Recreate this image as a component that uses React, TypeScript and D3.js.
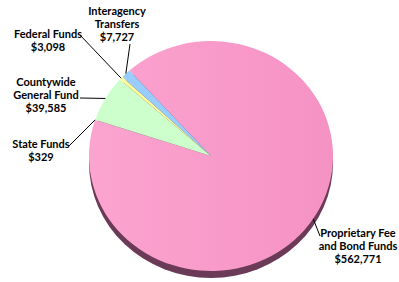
import React from 'react';
import * as d3 from 'd3';

const categories = [
  'Proprietary Fee and Bond Funds',
  'State Funds',
  'Countywide General Fund',
  'Federal Funds',
  'Interagency Transfers',
];
const values = [562771, 329, 39585, 3098, 7727];
const colors = ['#f99bc9', '#ffffcc', '#ccffcc', '#ffff99', '#99ccff'];
const labelLines = [
  ['Proprietary Fee', 'and Bond Funds', '$562,771'],
  ['State Funds', '$329'],
  ['Countywide', 'General Fund', '$39,585'],
  ['Federal Funds', '$3,098'],
  ['Interagency', 'Transfers', '$7,727'],
];

// label anchor (text centre x, first line y) and leader start
const labelPos = [
  { x: 358, y: 233, lx: [320, 236] },
  { x: 41, y: 144, lx: [69, 146] },
  { x: 46, y: 82, lx: [80, 98] },
  { x: 48, y: 34, lx: [80, 35] },
  { x: 117, y: 11, lx: [130, 44] },
];

export default function App() {
  const width = 399;
  const height = 282;
  const cx = 211;
  const cy = 156;
  const rx = 122;
  const ry = 115;
  const depth = 7;
  const k = ry / rx;

  const start = (-42 * Math.PI) / 180;
  const pie = d3.pie<number>().sort(null).startAngle(start).endAngle(start + 2 * Math.PI);
  const arcs = pie(values);
  const arc = d3.arc<d3.PieArcDatum<number>>().innerRadius(0).outerRadius(rx);

  const rimPoint = (a: number) => [cx + rx * Math.sin(a), cy - ry * Math.cos(a)];

  return (
    <svg width={width} height={height} style={{ position: 'absolute', left: 0, top: 0 }}>
      <defs>
        <linearGradient id="pinkGrad" x1="0" x2="1" y1="0" y2="0">
          <stop offset="0%" stopColor="#fca4d0" />
          <stop offset="100%" stopColor="#f592c4" />
        </linearGradient>
      </defs>
      <rect width={width} height={height} fill="#ffffff" />
      {/* side / depth */}
      <ellipse cx={cx} cy={cy + depth} rx={rx} ry={ry} fill="#6b3a56" />
      <g transform={`translate(${cx},${cy}) scale(1,${k})`}>
        {arcs.map((d, i) => (
          <path
            key={categories[i]}
            d={arc(d) || ''}
            fill={i === 0 ? 'url(#pinkGrad)' : colors[i]}
          />
        ))}
      </g>
      {arcs.map((d, i) => {
        const mid = (d.startAngle + d.endAngle) / 2;
        const [ex, ey] = rimPoint(mid);
        const p = labelPos[i];
        return (
          <g key={'l' + i}>
            <polyline
              points={`${p.lx[0]},${p.lx[1]} ${ex},${ey}`}
              fill="none"
              stroke="#000"
              strokeWidth={1}
            />
            <text
              x={p.x}
              y={p.y}
              textAnchor="middle"
              fontFamily="Lato, 'Open Sans', sans-serif"
              fontWeight="bold"
              fontSize={11}
              fill="#000"
            >
              {labelLines[i].map((t, j) => (
                <tspan key={j} x={p.x} dy={j === 0 ? '0.35em' : 13.3}>
                  {t}
                </tspan>
              ))}
            </text>
          </g>
        );
      })}
    </svg>
  );
}
